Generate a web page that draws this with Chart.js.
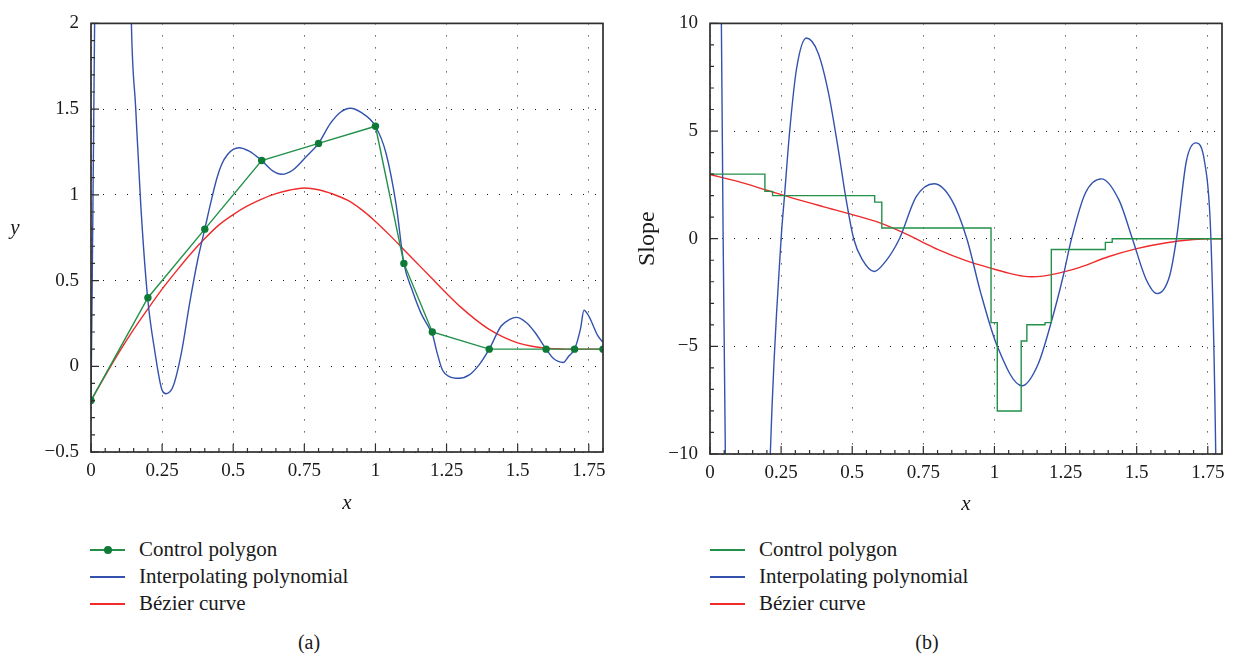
<!DOCTYPE html>
<html>
<head>
<meta charset="utf-8">
<script src="https://cdn.jsdelivr.net/npm/chart.js@4.4.1/dist/chart.umd.min.js"></script>
<style>
  html, body { margin: 0; padding: 0; background: #fff; }
  body { width: 1236px; height: 658px; position: relative; overflow: hidden;
         font-family: "Liberation Serif", "DejaVu Serif", serif; color: #1a1a1a; }
  .panel { position: absolute; top: 0; width: 618px; height: 520px; }
  #panelA { left: 0; }
  #panelB { left: 618px; }
  .legend { position: absolute; top: 536px; list-style: none; margin: 0; padding: 0; font-size: 21px; }
  #legendA { left: 90px; }
  #legendB { left: 710px; }
  .legend li { height: 27px; display: flex; align-items: center; white-space: nowrap; }
  .swatch { position: relative; width: 35px; height: 2px; margin-right: 14px; }
  .swatch i { position: absolute; left: 14px; top: -3px; width: 8px; height: 8px; border-radius: 50%; }
  .caption { position: absolute; top: 631px; width: 618px; text-align: center; font-size: 20px; }
</style>
</head>
<body>
<div class="panel" id="panelA"><canvas id="chartA" width="618" height="520"></canvas></div>
<div class="panel" id="panelB"><canvas id="chartB" width="618" height="520"></canvas></div>
<ul class="legend" id="legendA"></ul>
<ul class="legend" id="legendB"></ul>
<div class="caption" style="left:0">(a)</div>
<div class="caption" style="left:618px">(b)</div>

<script>
// tick labels
const xTicks = [0, 0.25, 0.5, 0.75, 1, 1.25, 1.5, 1.75];
const yTicksA = [-0.5, 0, 0.5, 1, 1.5, 2];
const yTicksB = [-10, -5, 0, 5, 10];

// (a) control polygon
const ctrlX = [0, 0.2, 0.4, 0.6, 0.8, 1.0, 1.1, 1.2, 1.4, 1.6, 1.7, 1.8];
const ctrlY = [-0.2, 0.4, 0.8, 1.2, 1.3, 1.4, 0.6, 0.2, 0.1, 0.1, 0.1, 0.1];

// (a) interpolating polynomial (off-scale parts estimated)
const polyX = [0, 0.004, 0.008, 0.013, 0.02, 0.05, 0.09, 0.12, 0.142, 0.157, 0.175, 0.199,
  0.225, 0.25, 0.264, 0.288, 0.318, 0.347, 0.375, 0.4, 0.419, 0.443, 0.46, 0.48, 0.5, 0.52,
  0.556, 0.6, 0.639, 0.671, 0.71, 0.758, 0.8, 0.841, 0.877, 0.912, 0.948, 1.0, 1.037,
  1.073, 1.1, 1.13, 1.16, 1.19, 1.2, 1.215, 1.235, 1.26, 1.293, 1.33, 1.365, 1.4,
  1.442, 1.472, 1.495, 1.531, 1.561, 1.6, 1.626, 1.66, 1.68, 1.7, 1.721, 1.733, 1.751,
  1.781, 1.8];
const polyY = [-0.2, 0.45, 1.15, 2.05, 3.1, 5.6, 6.2, 4.4, 2.0, 1.51, 0.94, 0.4,
  0.08, -0.14, -0.16, -0.12, 0.08, 0.37, 0.62, 0.8, 0.94, 1.1, 1.18, 1.235, 1.265, 1.275,
  1.255, 1.2, 1.14, 1.12, 1.145, 1.225, 1.3, 1.415, 1.482, 1.505, 1.482, 1.4, 1.244,
  0.94, 0.6, 0.44, 0.31, 0.22, 0.19, 0.09, -0.02, -0.06, -0.07, -0.05, 0.01, 0.1,
  0.235, 0.273, 0.285, 0.254, 0.197, 0.1, 0.045, 0.022, 0.06, 0.1, 0.22, 0.327, 0.29,
  0.18, 0.14];

// (a) Bezier curve
const bezX = [0, 0.05, 0.1, 0.15, 0.2, 0.25, 0.3, 0.35, 0.4, 0.45, 0.5, 0.55, 0.6, 0.65,
  0.7, 0.75, 0.8, 0.85, 0.9, 0.95, 1.0, 1.05, 1.1, 1.15, 1.2, 1.25, 1.3, 1.35, 1.4, 1.45,
  1.5, 1.55, 1.6, 1.65, 1.7, 1.8];
const bezY = [-0.2, -0.055, 0.085, 0.215, 0.335, 0.45, 0.555, 0.655, 0.745, 0.825, 0.885,
  0.935, 0.975, 1.007, 1.028, 1.04, 1.03, 1.005, 0.97, 0.915, 0.845, 0.765, 0.68, 0.595,
  0.51, 0.425, 0.345, 0.275, 0.215, 0.17, 0.137, 0.117, 0.106, 0.101, 0.1, 0.1];

// (b) slope of the control polygon (step starts)
const slopeCtrlX = [0, 0.193, 0.22, 0.579, 0.604, 0.988, 1.01, 1.094, 1.114, 1.178, 1.2, 1.39, 1.414, 1.8];
const slopeCtrlY = [3, 2.2, 2, 1.7, 0.5, -3.9, -8, -4.75, -4.0, -3.9, -0.5, -0.17, 0, 0];

// (b) slope of the interpolating polynomial
const slopePolyX = [0, 0.02, 0.035, 0.04, 0.046, 0.054, 0.065, 0.1, 0.16, 0.19, 0.212, 0.25,
  0.262, 0.28, 0.304, 0.339, 0.38, 0.416, 0.452, 0.476, 0.505, 0.535, 0.577, 0.618, 0.666,
  0.725, 0.788, 0.85, 0.903, 0.951, 1.01, 1.097, 1.153, 1.2, 1.242, 1.271, 1.319, 1.376,
  1.438, 1.485, 1.533, 1.572, 1.616, 1.64, 1.675, 1.708, 1.74, 1.761, 1.778, 1.79, 1.8];
const slopePolyY = [60, 30, 14, 10, 0.3, -10, -22, -40, -35, -22, -10, 0,
  2.0, 4.98, 7.87, 9.32, 8.63, 6.81, 4.07, 2.02, 0, -0.96, -1.52, -1.04, 0,
  1.95, 2.55, 1.79, 0, -2.48, -5.0, -6.83, -5.84, -3.86, -1.72, 0, 2.1, 2.78,
  1.79, 0, -1.88, -2.55, -1.72, 0, 3.62, 4.45, 3.47, 0, -10, -25, -45];

// (b) slope of the Bezier curve
const slopeBezX = [0, 0.1, 0.2, 0.3, 0.4, 0.5, 0.6, 0.7, 0.75, 0.8, 0.9, 1.0, 1.05, 1.1,
  1.13, 1.17, 1.2, 1.25, 1.3, 1.4, 1.5, 1.6, 1.7, 1.75, 1.8];
const slopeBezY = [2.98, 2.65, 2.25, 1.85, 1.48, 1.12, 0.72, 0.15, -0.18, -0.5, -1.02, -1.42,
  -1.6, -1.74, -1.77, -1.74, -1.67, -1.52, -1.33, -0.84, -0.46, -0.2, -0.04, 0, 0];

const GREEN = '#23904a';
const GREEN_DOT = '#0e7a38';
const BLUE = '#3252ae';
const RED = '#ef2b2b';
const INK = '#1a1a1a';
const SERIF = '"Liberation Serif", "DejaVu Serif", serif';

function pts(xs, ys) {
  return xs.map((x, i) => ({ x: x, y: ys[i] }));
}

function fmt(v) {
  return String(v).replace('-', '\u2212');
}

// frame box, inward ticks and the unrotated y label
const frameTicks = {
  id: 'frameTicks',
  afterDraw(chart, args, opts) {
    const { ctx, chartArea: a, scales: { x, y } } = chart;
    ctx.save();
    ctx.strokeStyle = '#2e2e2e';
    ctx.lineWidth = 1.2;
    ctx.beginPath();
    const nx = Math.round((x.max - x.min) / opts.xMinor);
    for (let i = 0; i <= nx; i++) {
      const v = x.min + i * opts.xMinor;
      const r = v / opts.xMajor;
      const len = Math.abs(r - Math.round(r)) < 1e-6 ? 8 : 4;
      const px = x.getPixelForValue(v);
      ctx.moveTo(px, a.bottom);
      ctx.lineTo(px, a.bottom - len);
    }
    const ny = Math.round((y.max - y.min) / opts.yMinor);
    for (let i = 0; i <= ny; i++) {
      const v = y.min + i * opts.yMinor;
      const r = v / opts.yMajor;
      const len = Math.abs(r - Math.round(r)) < 1e-6 ? 8 : 4;
      const py = y.getPixelForValue(v);
      ctx.moveTo(a.left, py);
      ctx.lineTo(a.left + len, py);
    }
    ctx.stroke();
    ctx.lineWidth = 1.7;
    ctx.strokeRect(a.left, a.top, a.right - a.left, a.bottom - a.top);
    if (opts.yLabel) {
      ctx.fillStyle = INK;
      ctx.font = 'italic 21px ' + SERIF;
      ctx.textAlign = 'center';
      ctx.textBaseline = 'middle';
      ctx.fillText(opts.yLabel, 15, (a.top + a.bottom) / 2 - 9);
    }
    ctx.restore();
  }
};

function makeChart(id, cfg) {
  const lineBase = { borderWidth: 1.4, pointRadius: 0, fill: false, cubicInterpolationMode: 'monotone' };
  return new Chart(document.getElementById(id), {
    type: 'line',
    data: { datasets: cfg.datasets.map(d => Object.assign({}, lineBase, d)) },
    options: {
      responsive: false,
      devicePixelRatio: 1,
      animation: false,
      layout: { padding: { left: 0, top: cfg.top, right: cfg.right, bottom: 0 } },
      elements: { line: { capBezierPoints: false } },
      plugins: {
        legend: { display: false },
        tooltip: { enabled: false },
        frameTicks: cfg.frame
      },
      scales: {
        x: {
          type: 'linear', min: 0, max: 1.8,
          afterBuildTicks: s => { s.ticks = xTicks.map(v => ({ value: v })); },
          afterFit: s => { s.height = cfg.xHeight; },
          grid: { color: '#111', lineWidth: 1, drawTicks: false },
          border: { display: false, dash: [1, 11] },
          ticks: { color: INK, padding: 8, maxRotation: 0, font: { family: SERIF, size: 19 }, callback: fmt },
          title: { display: true, text: 'x', color: INK, font: { family: SERIF, size: 21, style: 'italic' },
                   padding: { top: 0, bottom: cfg.xTitlePad } }
        },
        y: {
          type: 'linear', min: cfg.yMin, max: cfg.yMax,
          afterBuildTicks: s => { s.ticks = cfg.yTicks.map(v => ({ value: v })); },
          afterFit: s => { s.width = cfg.yWidth; },
          grid: { color: '#111', lineWidth: 1, drawTicks: false },
          border: { display: false, dash: [1, 11] },
          ticks: { color: INK, padding: 12, font: { family: SERIF, size: 19 }, callback: fmt },
          title: cfg.yTitle
        }
      }
    },
    plugins: [frameTicks]
  });
}

const chartA = makeChart('chartA', {
  top: 15, right: 15, xHeight: 68, yWidth: 91, xTitlePad: 4,
  yMin: -0.5, yMax: 2, yTicks: yTicksA,
  yTitle: { display: false },
  frame: { xMinor: 0.05, xMajor: 0.25, yMinor: 0.1, yMajor: 0.5, yLabel: 'y' },
  datasets: [
    { label: 'Control polygon', data: pts(ctrlX, ctrlY), borderColor: GREEN, tension: 0,
      cubicInterpolationMode: 'default', pointRadius: 3.7, pointBackgroundColor: GREEN_DOT,
      pointBorderColor: GREEN_DOT, pointBorderWidth: 0 },
    { label: 'Interpolating polynomial', data: pts(polyX, polyY), borderColor: BLUE },
    { label: 'B\u00e9zier curve', data: pts(bezX, bezY), borderColor: RED }
  ]
});

const chartB = makeChart('chartB', {
  top: 16, right: 14, xHeight: 66, yWidth: 92, xTitlePad: 3,
  yMin: -10, yMax: 10, yTicks: yTicksB,
  yTitle: { display: true, text: 'Slope', color: INK, font: { family: SERIF, size: 24 },
            padding: { top: 15, bottom: 0 } },
  frame: { xMinor: 0.05, xMajor: 0.25, yMinor: 1, yMajor: 5 },
  datasets: [
    { label: 'Control polygon', data: pts(slopeCtrlX, slopeCtrlY), borderColor: GREEN,
      stepped: 'before', tension: 0, cubicInterpolationMode: 'default' },
    { label: 'Interpolating polynomial', data: pts(slopePolyX, slopePolyY), borderColor: BLUE },
    { label: 'B\u00e9zier curve', data: pts(slopeBezX, slopeBezY), borderColor: RED }
  ]
});

// html legend built from the chart datasets
function buildLegend(chart, el) {
  chart.data.datasets.forEach(ds => {
    const li = document.createElement('li');
    const sw = document.createElement('span');
    sw.className = 'swatch';
    sw.style.backgroundColor = ds.borderColor;
    if (ds.pointRadius > 0) {
      const dot = document.createElement('i');
      dot.style.backgroundColor = ds.pointBackgroundColor;
      sw.appendChild(dot);
    }
    const tx = document.createElement('span');
    tx.textContent = ds.label;
    li.appendChild(sw);
    li.appendChild(tx);
    el.appendChild(li);
  });
}
buildLegend(chartA, document.getElementById('legendA'));
buildLegend(chartB, document.getElementById('legendB'));
</script>
</body>
</html>
